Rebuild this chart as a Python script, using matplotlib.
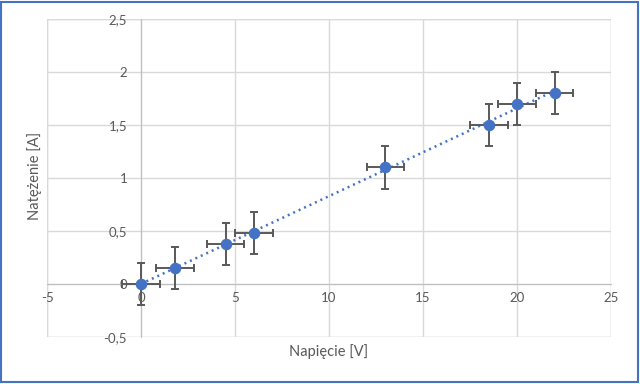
import numpy as np
import matplotlib.pyplot as plt
from matplotlib.ticker import FuncFormatter, MultipleLocator
from matplotlib.patches import Rectangle

# pomiary
napiecie = [0, 1.8, 4.5, 6, 13, 18.5, 20, 22]
natezenie = [0, 0.15, 0.38, 0.48, 1.1, 1.5, 1.7, 1.8]
blad_u = 1.0
blad_i = 0.2

plt.rcParams['font.family'] = ['Lato', 'DejaVu Sans']
szary = '#595959'
niebieski = '#4472C4'

fig = plt.figure(figsize=(6.4, 3.84), dpi=100)
ax = fig.add_axes([47 / 640, 1 - 337 / 384, 564 / 640, 318 / 384])

ax.set_xlim(-5, 25)
ax.set_ylim(-0.5, 2.5)
ax.xaxis.set_major_locator(MultipleLocator(5))
ax.yaxis.set_major_locator(MultipleLocator(0.5))
ax.grid(True, color='#D9D9D9', lw=1)
ax.set_axisbelow(True)

for s in ['top', 'right']:
    ax.spines[s].set_visible(False)
ax.spines['left'].set_position(('data', 0))
ax.spines['bottom'].set_position(('data', 0))
ax.spines['left'].set_color('#BFBFBF')
ax.spines['bottom'].set_color('#BFBFBF')
# ramka obszaru wykresu z siatki
ax.add_patch(Rectangle((0, 0), 1, 1, transform=ax.transAxes, fill=False,
                       ec='#D9D9D9', lw=1, zorder=0))

fmt = FuncFormatter(lambda v, p: ('%g' % v).replace('.', ','))
ax.xaxis.set_major_formatter(fmt)
ax.yaxis.set_major_formatter(fmt)
ax.tick_params(axis='both', length=0, labelsize=9.5, labelcolor=szary)
ax.tick_params(axis='y', pad=10)
ax.tick_params(axis='x', pad=6)

# linia trendu
a, b = np.polyfit(napiecie, natezenie, 1)
xs = np.array([min(napiecie), max(napiecie)])
ax.plot(xs, a * xs + b, color=niebieski, lw=1.8, ls=(0, (0.8, 1.6)), zorder=2)

ax.errorbar(napiecie, natezenie, xerr=blad_u, yerr=blad_i, fmt='none',
            ecolor=szary, elinewidth=1.4, capsize=3.2, capthick=1.4, zorder=3)
ax.plot(napiecie, natezenie, 'o', color=niebieski, ms=7.3, zorder=4)

fig.text(329 / 640, 1 - 352 / 384, 'Napięcie [V]', ha='center', va='center',
         fontsize=10.5, color=szary)
fig.text(35 / 640, 1 - 176 / 384, 'Natężenie [A]', ha='center', va='center',
         rotation=90, fontsize=10.5, color=szary)

fig.add_artist(Rectangle((0.002, 0.004), 0.995, 0.992, transform=fig.transFigure,
                         fill=False, ec=niebieski, lw=1.5))

fig.savefig('out.png', dpi=100)
